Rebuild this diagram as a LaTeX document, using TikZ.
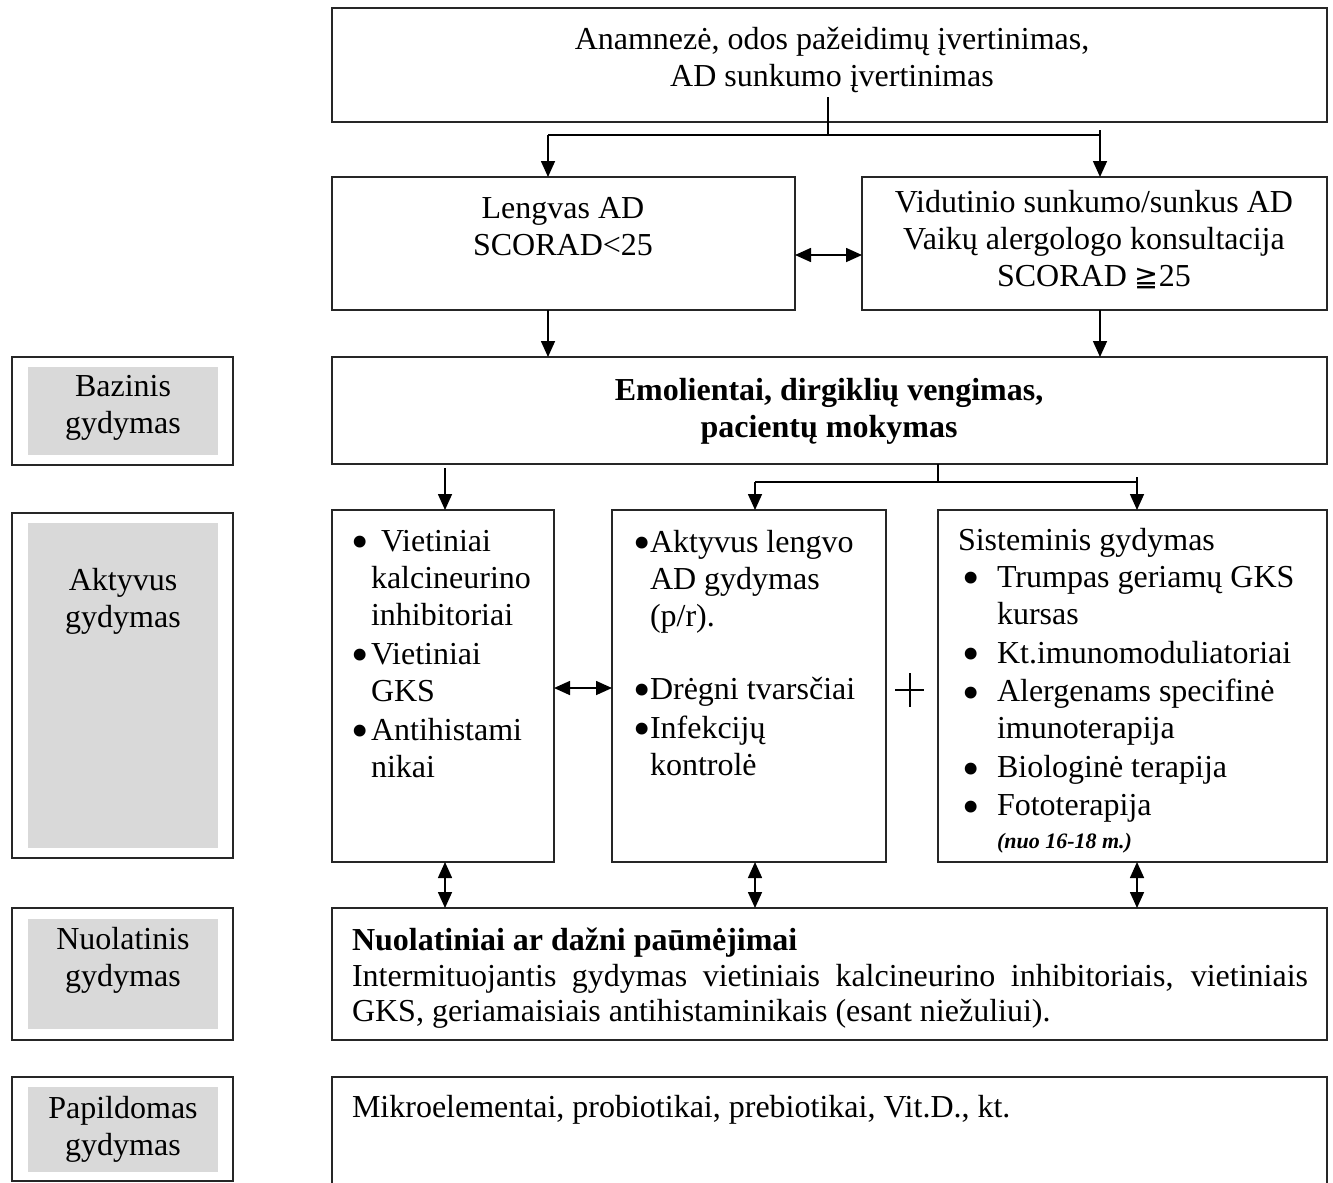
\documentclass[tikz,border=0pt]{standalone}
\usepackage{fontspec}
\setmainfont{Liberation Serif}
\newfontfamily\symfont{DejaVu Sans}
\usetikzlibrary{arrows.meta,calc}

% bullet of fixed width and a blank indent of the same kind
\newcommand\bul[1]{\makebox[#1][l]{\smash{\raisebox{-5.6pt}{\scalebox{1.55}{•}}}}}
\newcommand\ind[1]{\hspace*{#1}}

% framed box given by its corners (in px-like units)
\newcommand\rbox[6][]{%
  \node[frame,#1,minimum width={(#5-#3)*0.75pt},minimum height={(#6-#4)*0.75pt}]
    (#2) at ({(#3+#5)/2},{(#4+#6)/2}) {};}

\tikzset{
  frame/.style={draw=black!85, line width=1.1pt, inner sep=0pt, outer sep=0pt},
  shaded/.style={fill=graybg, draw=none},
  txt/.style={inner sep=0pt, outer sep=0pt, font=\fontsize{24pt}{27.75pt}\selectfont},
  txtb/.style={txt, font=\fontsize{24pt}{27.75pt}\selectfont\bfseries},
  conn/.style={line width=1.2pt},
  tip/.tip={Triangle[length=12pt,width=10.5pt]},
  arr/.style={conn, -tip},
  dbl/.style={conn, tip-tip},
}
\definecolor{graybg}{HTML}{D9D9D9}

\begin{document}
\begin{tikzpicture}[x=0.75pt,y=-0.75pt]
\useasboundingbox (0,0) rectangle (1333,1182);

% ---- main column boxes
\rbox{top}{332}{8}{1327}{122}
\rbox{mild}{332}{177}{795}{310}
\rbox{sev}{862}{177}{1327}{310}
\rbox{base}{332}{357}{1327}{464}
\rbox{act1}{332}{510}{554}{862}
\rbox{act2}{612}{510}{886}{862}
\rbox{act3}{938}{510}{1327}{862}
\rbox{cont}{332}{908}{1327}{1040}
\rbox[draw=none]{supp}{332}{1077}{1327}{1190}
\draw[line width=1.1pt, black!85] (supp.south west) |- (supp.north east) -- (supp.south east);

% ---- stage labels on the left
\rbox{sBase}{12}{357}{233}{465}
\rbox[shaded]{gBase}{28}{367}{218}{455}
\rbox{sAct}{12}{513}{233}{858}
\rbox[shaded]{gAct}{28}{523}{218}{848}
\rbox{sCont}{12}{908}{233}{1040}
\rbox[shaded]{gCont}{28}{919}{218}{1029}
\rbox{sSupp}{12}{1077}{233}{1181}
\rbox[shaded]{gSupp}{28}{1087}{218}{1172}

\node[txt, align=center] (lBase) at (123,408) {Bazinis\\gydymas};
\node[txt, align=center] (lAct) at (123,601) {Aktyvus\\gydymas};
\node[txt, align=center] (lCont) at (123,960) {Nuolatinis\\gydymas};
\node[txt, align=center] (lSupp) at (123,1129) {Papildomas\\gydymas};

% ---- texts of the main column
\node[txt, align=center] (tTop) at (832,60) {Anamnezė, odos pažeidimų įvertinimas,\\AD sunkumo įvertinimas};
\node[txt, align=center] (tMild) at (563,227) {Lengvas AD\\SCORAD<25};
\node[txt, align=center] (tSev) at (1094,240) {Vidutinio sunkumo/sunkus AD\\Vaikų alergologo konsultacija\\SCORAD {\symfont\fontsize{21.5pt}{27pt}\selectfont ≧}25};
\node[txtb, align=center] (tBase) at (829,411) {Emolientai, dirgiklių vengimas,\\pacientų mokymas};

\node[txt, align=left, anchor=north west] (tAct1) at (351,530)
  {\bul{22.5pt}Vietiniai\\\ind{15pt}kalcineurino\\\ind{15pt}inhibitoriai\\[1.5pt]
   \bul{15pt}Vietiniai\\\ind{15pt}GKS\\[1.5pt]\bul{15pt}Antihistami\\\ind{15pt}nikai};
\node[txt, align=left, anchor=north west] (tAct2) at (633,530)
  {\bul{12.75pt}Aktyvus lengvo\\\ind{12.75pt}AD gydymas\\\ind{12.75pt}(p/r).\\[27pt]
   \bul{12.75pt}Drėgni tvarsčiai\\[1.5pt]\bul{12.75pt}Infekcijų\\\ind{12.75pt}kontrolė};
\node[txt, align=left, anchor=north west] (tAct3) at (958,528)
  {Sisteminis gydymas\\\ind{3pt}\bul{26.25pt}Trumpas geriamų GKS\\\ind{29.25pt}kursas\\[1.5pt]
   \ind{3pt}\bul{26.25pt}Kt.imunomoduliatoriai\\[1pt]\ind{3pt}\bul{26.25pt}Alergenams specifinė\\\ind{29.25pt}imunoterapija\\[1.5pt]
   \ind{3pt}\bul{26.25pt}Biologinė terapija\\[1pt]\ind{3pt}\bul{26.25pt}Fototerapija\\[-3pt]
   \ind{29.25pt}{\fontsize{16.5pt}{20pt}\selectfont\bfseries\itshape (nuo 16-18 m.)}};

\node[txt, align=left, anchor=north west] (tCont) at (352,928)
  {{\bfseries Nuolatiniai ar dažni paūmėjimai}\\[-1pt]
   \makebox[717pt][s]{Intermituojantis gydymas vietiniais kalcineurino inhibitoriais, vietiniais}\\[-1pt]
   GKS, geriamaisiais antihistaminikais (esant niežuliui).};
\node[txt, anchor=west] (tSupp) at (352,1110) {Mikroelementai, probiotikai, prebiotikai, Vit.D., kt.};

% ---- connectors: assessment to severity
\coordinate (t0) at (828,97);
\coordinate (t1) at (828,135);
\coordinate (tl) at (548,135);
\coordinate (tr) at (1100,135);
\coordinate (trk) at (1100,130);
\draw[conn] (t0) -- (t1);
\draw[conn] (tl) -- (tr) -- (trk);
\draw[arr] (tl) -- (tl |- mild.north);
\draw[arr] (tr) -- (tr |- sev.north);
\draw[dbl] ($(mild.east)+(0,11.5)$) -- ($(sev.west)+(0,11.5)$);

% severity to basic care
\draw[arr] (mild.south -| tl) -- (base.north -| tl);
\draw[arr] (sev.south -| tr) -- (base.north -| tr);

% basic care to active treatment
\coordinate (la) at (445,468);
\coordinate (bj) at (938,482);
\coordinate (bl) at (755,482);
\coordinate (br) at (1137,482);
\coordinate (brk) at (1137,477);
\draw[arr] (la) -- (la |- act1.north);
\draw[conn] (base.south -| bj) -- (bj);
\draw[conn] (bl) -- (br) -- (brk);
\draw[arr] (bl) -- (bl |- act2.north);
\draw[arr] (br) -- (br |- act3.north);
\draw[dbl] ($(act1.east)+(0,2)$) -- ($(act2.west)+(0,2)$);

% plus sign between topical and systemic treatment
\draw[line width=0.9pt] (895,690) -- (924,690) (910,673) -- (910,707);

% active treatment to maintenance
\draw[dbl] (act1.south -| la) -- (cont.north -| la);
\draw[dbl] (act2.south -| bl) -- (cont.north -| bl);
\draw[dbl] (act3.south -| br) -- (cont.north -| br);
\end{tikzpicture}
\end{document}
